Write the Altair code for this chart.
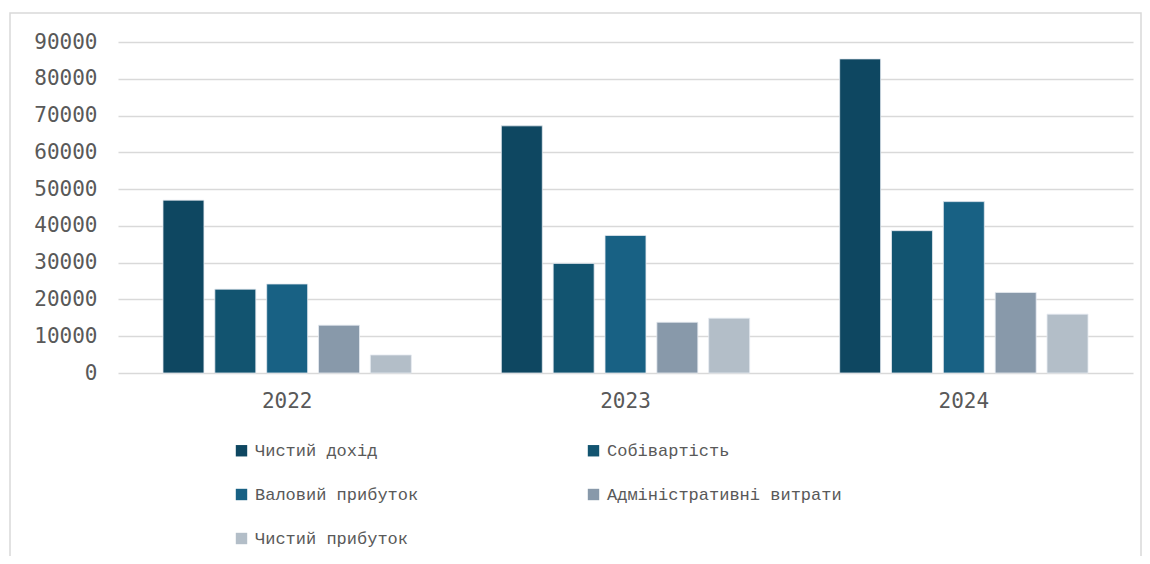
import altair as alt
import pandas as pd

years = ["2022", "2023", "2024"]
series = ["Чистий дохід", "Собівартість", "Валовий прибуток",
          "Адміністративні витрати", "Чистий прибуток"]
net_revenue = [47000, 67200, 85400]
cost = [22800, 29800, 38700]
gross_profit = [24200, 37400, 46600]
admin_costs = [13000, 13800, 21900]
net_profit = [4900, 14900, 16000]
colors = ["#0E4761", "#125470", "#186184", "#8899AA", "#B3BEC8"]
y_ticks = [0, 10000, 20000, 30000, 40000, 50000, 60000, 70000, 80000, 90000]

values = [net_revenue, cost, gross_profit, admin_costs, net_profit]
rows = []
for s, vals in zip(series, values):
    for y, v in zip(years, vals):
        rows.append({"year": y, "series": s, "value": v})
df = pd.DataFrame(rows)

axis_font = "DejaVu Sans Mono"
legend_font = "Liberation Mono"

bars = alt.Chart(df).mark_bar(stroke="#E4EAF0", strokeWidth=0.8).encode(
    x=alt.X("year:N", sort=years, title=None,
            scale=alt.Scale(paddingInner=0.266, paddingOuter=0.133),
            axis=alt.Axis(labelAngle=0, domain=False, ticks=False,
                          labelFont=axis_font, labelFontSize=21,
                          labelColor="#595959", labelPadding=17)),
    xOffset=alt.XOffset("series:N", sort=series,
                        scale=alt.Scale(paddingInner=0.21, paddingOuter=0)),
    y=alt.Y("value:Q", title=None,
            scale=alt.Scale(domain=[0, 90000], nice=False),
            axis=alt.Axis(values=y_ticks, format="d", domain=False, ticks=False,
                          gridColor="#D9D9D9", gridWidth=1.3,
                          labelFont=axis_font, labelFontSize=21,
                          labelColor="#595959", labelPadding=21)),
    color=alt.Color("series:N", sort=series, title=None,
                    scale=alt.Scale(domain=series, range=colors),
                    legend=alt.Legend(orient="none", legendX=115, legendY=400,
                                      direction="horizontal",
                                      columns=2, columnPadding=166, rowPadding=26,
                                      symbolType="square", symbolSize=130,
                                      symbolStrokeWidth=0, labelOffset=5,
                                      labelFont=legend_font, labelFontSize=17,
                                      labelColor="#595959", labelLimit=400)),
)

border = alt.Chart(pd.DataFrame({"a": [0]})).mark_rect(
    fill=None, stroke="#D9D9D9", strokeWidth=1.5
).encode(x=alt.value(-108), x2=alt.value(1023), y=alt.value(-29), y2=alt.value(560))

chart = alt.layer(border, bars).properties(
    width=1015, height=331,
    autosize=alt.AutoSizeParams(type="none"),
    padding={"left": 110, "top": 34, "right": 9, "bottom": 183},
).configure_view(stroke=None)

chart.save("out.html", embed_options={"renderer": "svg", "actions": False})
